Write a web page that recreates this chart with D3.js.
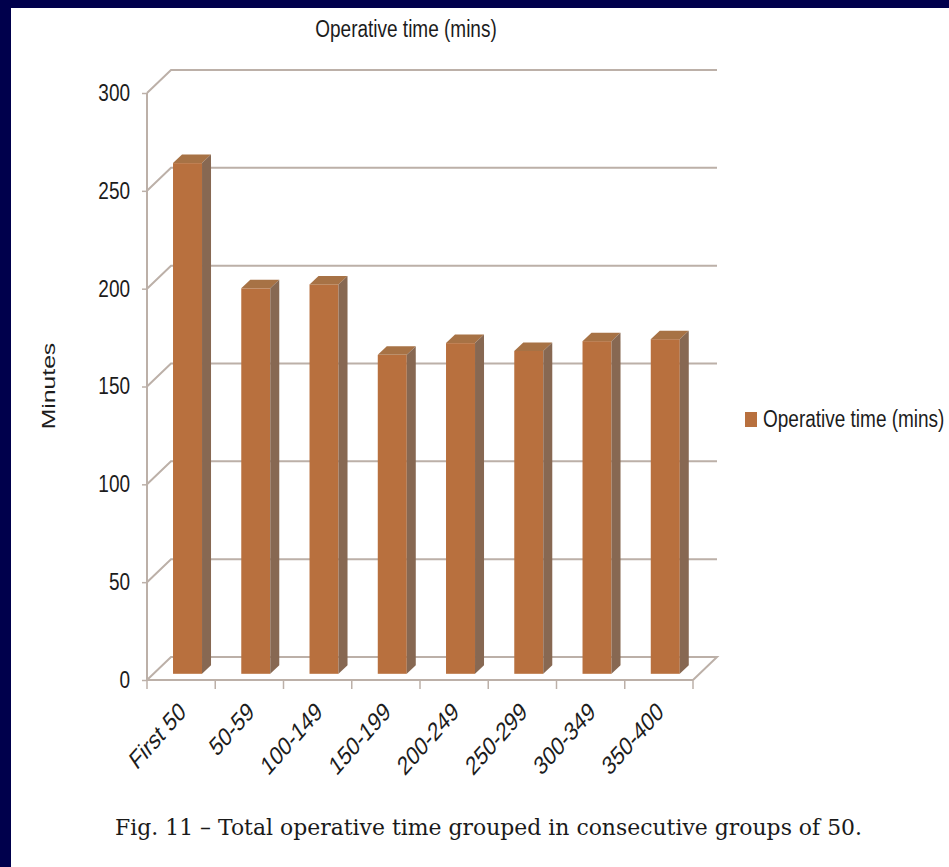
<!DOCTYPE html>
<meta charset="utf-8">
<style>

body {
  margin: 0;
  background: #00004c;
}

svg {
  display: block;
}

.tick text,
.lab {
  font: 19px "Liberation Sans", Arial, sans-serif;
  fill: #1c1c1c;
}

.xlab text {
  font-size: 20px;
}

.wall {
  stroke: #bcb0a8;
  stroke-width: 2;
  fill: none;
}

.caption {
  font: 22px "DejaVu Serif", "Liberation Serif", serif;
  fill: #1a1a1a;
}

</style>
<body>
<script src="https://d3js.org/d3.v7.min.js"></script>
<script>

var categories = ["First 50", "50-59", "100-149", "150-199", "200-249", "250-299", "300-349", "350-400"];
var minutes = [261, 197, 199, 163, 169, 165, 170, 171];
var yTicks = [0, 50, 100, 150, 200, 250, 300];

var width = 949,
    height = 867;

// depth of the 3d box, and where the bars sit inside it
var DX = 24, DY = -23,
    frontDX = 6.5, frontDY = -6.2,
    barDX = 9, barDY = -8.5,
    stretch = 1.3;   // the source chart is squashed sideways, text looks tall

var x = d3.scaleBand()
    .domain(categories)
    .range([147, 693]);

var y = d3.scaleLinear()
    .domain([0, 300])
    .range([680, 93]);

var svg = d3.select("body").append("svg")
    .attr("width", width)
    .attr("height", height);

svg.append("rect")
    .attr("width", width)
    .attr("height", height)
    .attr("fill", "#00004c");

svg.append("rect")
    .attr("x", 11)
    .attr("y", 8)
    .attr("width", width - 11)
    .attr("height", height - 8)
    .attr("fill", "#fff");

var x0 = x.range()[0], x1 = x.range()[1];

// back wall gridlines + side wall diagonals
svg.append("g").selectAll("path")
    .data(yTicks)
  .enter().append("path")
    .attr("class", "wall")
    .attr("d", function(t) {
      var p = "M" + x0 + "," + y(t) + "L" + (x0 + DX) + "," + (y(t) + DY) + "L" + (x1 + DX) + "," + (y(t) + DY);
      if (t === 0) p += "L" + x1 + "," + y(0);
      return p;
    });

// y axis
var yAxis = svg.append("g")
    .attr("transform", "translate(" + x0 + ",0)")
    .call(d3.axisLeft(y).tickValues(yTicks).tickSize(5).tickSizeOuter(0).tickPadding(12));

yAxis.select(".domain").attr("class", "domain wall").attr("d", "M0," + y(0) + "V" + y(300));
yAxis.selectAll(".tick line").attr("stroke", "#bcb0a8").attr("stroke-width", 1.5);
yAxis.selectAll(".tick text").attr("transform", "scale(1," + stretch + ")").attr("dy", "0.3em");

// x axis floor edge and boundary ticks
var bounds = categories.map(function(c) { return x(c); }).concat([x1]);

svg.append("path")
    .attr("class", "wall")
    .attr("d", "M" + x0 + "," + y(0) + "H" + x1);

svg.append("g").selectAll("line")
    .data(bounds)
  .enter().append("line")
    .attr("x1", function(d) { return d; })
    .attr("x2", function(d) { return d; })
    .attr("y1", y(0))
    .attr("y2", y(0) + 9)
    .attr("stroke", "#bcb0a8")
    .attr("stroke-width", 1.5);

var xAxis = svg.append("g")
    .attr("class", "xlab")
    .attr("transform", "translate(0," + y(0) + ")")
    .call(d3.axisBottom(x).tickSize(0));

xAxis.select(".domain").remove();
xAxis.selectAll(".tick text")
    .attr("y", 0)
    .attr("dy", 0)
    .attr("text-anchor", "end")
    .attr("transform", "translate(6,34) scale(1," + stretch + ") rotate(-41)");

// bars
var bw = x.bandwidth() * 0.425;

var bars = svg.append("g").selectAll("g")
    .data(categories.map(function(c, i) { return {cat: c, value: minutes[i]}; }))
  .enter().append("g");

function bx(d) { return x(d.cat) + x.bandwidth() * 0.286 + frontDX; }
function btop(d) { return y(d.value) + frontDY; }
var bbase = y(0) + frontDY;

bars.append("rect")
    .attr("x", bx)
    .attr("y", btop)
    .attr("width", bw)
    .attr("height", function(d) { return bbase - btop(d); })
    .attr("fill", "#b8703e");

bars.append("path")
    .attr("fill", "#a77245")
    .attr("d", function(d) {
      var l = bx(d), t = btop(d);
      return "M" + l + "," + t + "L" + (l + bw) + "," + t + "L" + (l + bw + barDX) + "," + (t + barDY) +
          "L" + (l + barDX) + "," + (t + barDY) + "Z";
    });

bars.append("path")
    .attr("fill", "#876852")
    .attr("d", function(d) {
      var r = bx(d) + bw, t = btop(d);
      return "M" + r + "," + t + "L" + (r + barDX) + "," + (t + barDY) + "L" + (r + barDX) + "," + (bbase + barDY) +
          "L" + r + "," + bbase + "Z";
    });

// titles
svg.append("text")
    .attr("class", "lab")
    .attr("text-anchor", "middle")
    .attr("transform", "translate(406,37) scale(1," + stretch + ")")
    .text("Operative time (mins)");

svg.append("text")
    .attr("class", "lab")
    .attr("text-anchor", "middle")
    .attr("transform", "translate(55,386) scale(1," + stretch + ") rotate(-90)")
    .text("Minutes");

// legend
svg.append("rect")
    .attr("x", 745)
    .attr("y", 412)
    .attr("width", 12)
    .attr("height", 15)
    .attr("fill", "#b8703e");

svg.append("text")
    .attr("class", "lab")
    .attr("transform", "translate(763,427) scale(1," + stretch + ")")
    .text("Operative time (mins)");

svg.append("text")
    .attr("class", "caption")
    .attr("x", 115)
    .attr("y", 835)
    .attr("textLength", 747)
    .attr("lengthAdjust", "spacingAndGlyphs")
    .text("Fig. 11 \u2013 Total operative time grouped in consecutive groups of 50.");

</script>
